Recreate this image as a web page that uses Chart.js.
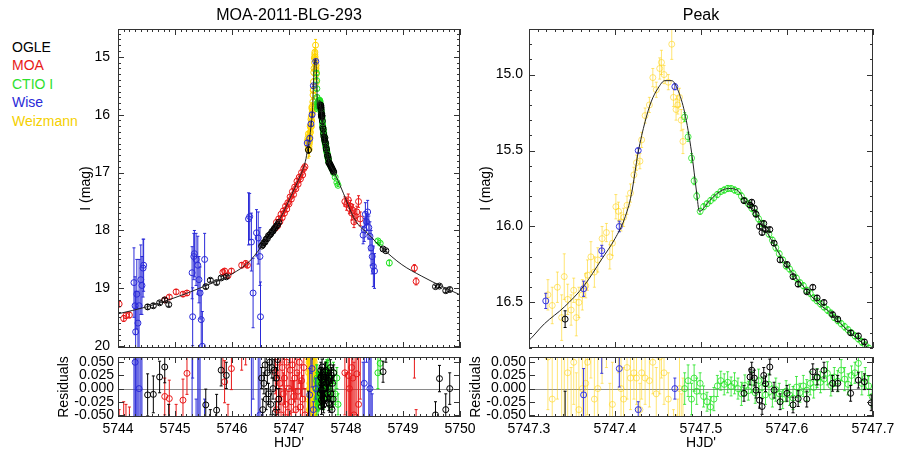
<!DOCTYPE html>
<html>
<head>
<meta charset="utf-8">
<script src="https://cdn.jsdelivr.net/npm/chart.js@4.4.0/dist/chart.umd.min.js"></script>
<style>
  body { margin: 0; background: #fff; width: 903px; height: 459px; position: relative; overflow: hidden;
         font-family: 'Liberation Sans', Arial, sans-serif; }
  canvas { position: absolute; }
  #legend { position: absolute; left: 12px; top: 38px; font-size: 14px; line-height: 18.4px; }
</style>
</head>
<body>
<div id="legend"></div>
<canvas id="leftMain" width="480" height="360" style="left:0;top:0"></canvas>
<canvas id="leftRes" width="480" height="109" style="left:0;top:350px"></canvas>
<canvas id="rightMain" width="438" height="360" style="left:465px;top:0"></canvas>
<canvas id="rightRes" width="438" height="109" style="left:465px;top:350px"></canvas>
<script>
// tick labels
const leftDayTicks = [5744, 5745, 5746, 5747, 5748, 5749, 5750];
const leftMagTicks = [15, 16, 17, 18, 19, 20];
const peakDayTicks = [5747.3, 5747.4, 5747.5, 5747.6, 5747.7];
const peakMagTicks = [15.0, 15.5, 16.0, 16.5];
const residualTicks = [0.05, 0.025, 0, -0.025, -0.05];

// model light curve
const modelT = [5744.0, 5744.5, 5745.0, 5745.5, 5746.0, 5746.3, 5746.5, 5746.7, 5746.9, 5747.0, 5747.1, 5747.2, 5747.25,
  5747.298, 5747.318, 5747.341, 5747.364, 5747.384, 5747.4, 5747.411, 5747.419, 5747.427, 5747.435, 5747.442, 5747.45,
  5747.458, 5747.466, 5747.473, 5747.481, 5747.489, 5747.495, 5747.498, 5747.51, 5747.522, 5747.532, 5747.542, 5747.551,
  5747.561, 5747.573, 5747.589, 5747.604, 5747.62, 5747.635, 5747.651, 5747.666, 5747.682, 5747.7, 5747.75, 5747.81,
  5747.93, 5748.16, 5748.4, 5748.63, 5748.98, 5749.33, 5749.69, 5750.0];
const modelMag = [19.44, 19.32, 19.16, 18.97, 18.75, 18.54, 18.30, 18.04, 17.69, 17.48, 17.27, 17.05, 16.93,
  16.76, 16.64, 16.53, 16.39, 16.22, 16.08, 15.95, 15.79, 15.51, 15.31, 15.18, 15.09,
  15.04, 15.04, 15.10, 15.25, 15.51, 15.78, 15.90, 15.83, 15.77, 15.75, 15.76, 15.83,
  15.89, 16.00, 16.16, 16.29, 16.40, 16.50, 16.57, 16.66, 16.74, 16.82, 16.92, 17.03,
  17.30, 17.82, 18.07, 18.30, 18.59, 18.79, 18.97, 19.11];

// OGLE
const ogleT = [5744.52, 5744.62, 5744.73, 5744.82, 5744.89, 5745.54, 5745.62, 5745.73, 5745.81, 5745.90,
  5746.52, 5746.54, 5746.56, 5746.58, 5746.60, 5746.62, 5746.64, 5746.66, 5746.68, 5746.70, 5746.72, 5746.74, 5746.76, 5746.78, 5746.80, 5746.82,
  5747.342,
  5747.550, 5747.557, 5747.559, 5747.562, 5747.564, 5747.568, 5747.571, 5747.573, 5747.575, 5747.580, 5747.585, 5747.592, 5747.600,
  5747.607, 5747.613, 5747.623, 5747.630, 5747.635, 5747.643, 5747.653, 5747.659, 5747.674, 5747.683, 5747.690, 5747.698,
  5747.705, 5747.715, 5747.725, 5747.735, 5747.745, 5747.755, 5747.765, 5747.775, 5747.785,
  5748.65, 5748.70, 5749.57, 5749.64, 5749.75, 5749.82];
const ogleMag = [19.32, 19.30, 19.25, 19.20, 19.28, 18.97, 18.86, 18.90, 18.82, 18.80,
  18.27, 18.25, 18.21, 18.20, 18.15, 18.14, 18.09, 18.08, 18.06, 18.02, 18.01, 17.97, 17.95, 17.92, 17.90, 17.86,
  16.61,
  15.83, 15.86, 15.84, 15.88, 15.92, 16.00, 16.04, 15.98, 16.02, 16.02, 16.11, 16.22, 16.25,
  16.33, 16.38, 16.43, 16.40, 16.47, 16.50, 16.58, 16.61, 16.70, 16.72, 16.76, 16.83,
  16.83, 16.85, 16.87, 16.89, 16.91, 16.93, 16.95, 16.97, 16.99,
  18.32, 18.35, 18.97, 18.96, 19.04, 19.02];
const ogleErr = [0.04, 0.035, 0.03, 0.03, 0.03, 0.03, 0.03, 0.03, 0.03, 0.025,
  0.02, 0.02, 0.02, 0.02, 0.02, 0.02, 0.02, 0.02, 0.02, 0.02, 0.02, 0.02, 0.02, 0.02, 0.02, 0.02,
  0.055,
  0.015, 0.015, 0.015, 0.015, 0.015, 0.015, 0.015, 0.015, 0.015, 0.015, 0.015, 0.015, 0.015,
  0.015, 0.015, 0.015, 0.015, 0.015, 0.015, 0.015, 0.015, 0.015, 0.015, 0.015, 0.015,
  0.015, 0.015, 0.015, 0.015, 0.015, 0.015, 0.015, 0.015, 0.015,
  0.02, 0.02, 0.025, 0.025, 0.03, 0.03];
const ogleRes = [-0.012, -0.011, 0.022, 0.041, -0.06, -0.031, -0.07, -0.041, 0.035, 0.025,
  0.02, -0.04, 0.01, 0.045, -0.02, 0.03, -0.01, 0.05, -0.03, 0.04, 0.0, 0.035, -0.045, 0.02, 0.055, -0.02,
  -0.06,
  -0.009, 0.022, 0.035, 0.020, -0.003, -0.022, -0.034, 0.025, 0.009, 0.041, -0.003, -0.025, -0.009,
  -0.031, -0.019, -0.020, 0.032, 0.022, 0.035, 0.010, 0.010, -0.009, 0.016, 0.013, -0.027,
  0.02, -0.03, 0.04, -0.01, 0.025, -0.04, 0.01, -0.02, 0.03,
  0.032, 0.07, -0.05, 0.019, -0.04, 0.0];

// MOA
const moaT = [5744.02, 5744.10, 5744.14, 5744.20, 5744.82, 5744.90, 5745.02, 5745.14, 5745.21, 5745.84, 5745.87, 5745.93, 5745.99, 5746.17, 5746.24, 5746.27,
  5746.76, 5746.78, 5746.80, 5746.82, 5746.84, 5746.86, 5746.88, 5746.90, 5746.92, 5746.94, 5746.96, 5746.98, 5747.00, 5747.02,
  5747.04, 5747.06, 5747.08, 5747.10, 5747.12, 5747.14, 5747.16, 5747.18, 5747.20, 5747.22, 5747.24, 5747.26, 5747.28,
  5747.98, 5748.01, 5748.04, 5748.06, 5748.08, 5748.10, 5748.12, 5748.14, 5748.16, 5748.19, 5748.22, 5748.25,
  5749.20, 5749.23];
const moaMag = [19.27, 19.52, 19.47, 19.46, 19.20, 19.15, 19.06, 19.10, 19.08, 18.72, 18.70, 18.78, 18.70, 18.60, 18.57, 18.60,
  17.96, 17.86, 17.92, 17.80, 17.85, 17.72, 17.78, 17.66, 17.70, 17.58, 17.63, 17.52, 17.54, 17.42,
  17.46, 17.33, 17.38, 17.25, 17.28, 17.15, 17.20, 17.08, 17.11, 17.00, 17.04, 16.93, 16.90,
  17.50, 17.55, 17.47, 17.62, 17.58, 17.70, 17.65, 17.85, 17.75, 17.68, 17.50, 17.80,
  18.65, 18.88];
const moaErr = [0.05, 0.05, 0.05, 0.05, 0.035, 0.035, 0.04, 0.04, 0.04, 0.04, 0.04, 0.04, 0.04, 0.045, 0.045, 0.045,
  0.04, 0.05, 0.03, 0.045, 0.04, 0.05, 0.035, 0.04, 0.05, 0.03, 0.045, 0.04, 0.05, 0.035,
  0.04, 0.05, 0.03, 0.045, 0.04, 0.05, 0.035, 0.04, 0.05, 0.03, 0.045, 0.04, 0.05,
  0.08, 0.10, 0.10, 0.09, 0.10, 0.12, 0.10, 0.10, 0.12, 0.10, 0.10, 0.12,
  0.06, 0.06];
const moaRes = [-0.09, -0.075, -0.08, -0.085, -0.015, -0.019, -0.07, -0.022, 0.029, 0.07, 0.013, -0.07, 0.038, 0.08, 0.09, -0.1,
  0.03, -0.04, 0.05, -0.02, 0.01, -0.05, 0.04, -0.01, 0.02, -0.03, 0.05, -0.045, 0.0, 0.035,
  -0.025, 0.045, -0.015, 0.02, -0.04, 0.03, -0.005, 0.05, -0.035, 0.015, -0.02, 0.04, -0.05,
  0.03, -0.07, 0.025, 0.0, -0.08, 0.04, 0.02, -0.05, 0.07, 0.028, -0.03, 0.1,
  0.08, -0.1];

// CTIO I
const ctioT = [5747.481, 5747.485, 5747.489, 5747.492, 5747.495, 5747.499,
  5747.503, 5747.507, 5747.511, 5747.515, 5747.519, 5747.523, 5747.527, 5747.531, 5747.535, 5747.539,
  5747.543, 5747.547, 5747.551, 5747.555, 5747.559, 5747.563, 5747.567, 5747.571, 5747.575, 5747.579,
  5747.583, 5747.587, 5747.591, 5747.595, 5747.599, 5747.603, 5747.607, 5747.611, 5747.615, 5747.619,
  5747.623, 5747.627, 5747.631, 5747.635, 5747.639, 5747.643, 5747.647, 5747.651, 5747.655, 5747.659,
  5747.663, 5747.667, 5747.671, 5747.675, 5747.679, 5747.683, 5747.687, 5747.691, 5747.695, 5747.699,
  5747.72, 5747.75, 5747.78, 5747.81, 5747.84, 5747.86, 5748.56, 5748.60, 5748.76];
const ctioMag = [15.28, 15.41, 15.55, 15.70, 15.80, 15.90,
  15.87, 15.85, 15.83, 15.81, 15.79, 15.77, 15.76, 15.75, 15.75, 15.76,
  15.77, 15.80, 15.83, 15.85, 15.88, 15.91, 15.95, 15.98, 16.02, 16.05,
  16.09, 16.14, 16.18, 16.22, 16.26, 16.28, 16.31, 16.34, 16.37, 16.39,
  16.42, 16.44, 16.47, 16.49, 16.51, 16.53, 16.55, 16.57, 16.60, 16.62,
  16.64, 16.66, 16.68, 16.70, 16.72, 16.74, 16.76, 16.78, 16.80, 16.82,
  16.87, 16.93, 17.00, 17.08, 17.17, 17.22, 18.18, 18.22, 18.56];
const ctioErr = [0.03, 0.03, 0.03, 0.025, 0.025, 0.02,
  0.02, 0.018, 0.02, 0.022, 0.02, 0.018, 0.02, 0.02, 0.018, 0.02,
  0.02, 0.022, 0.02, 0.018, 0.02, 0.02, 0.022, 0.02, 0.018, 0.02,
  0.02, 0.022, 0.02, 0.018, 0.02, 0.02, 0.022, 0.02, 0.018, 0.02,
  0.02, 0.022, 0.02, 0.018, 0.02, 0.02, 0.022, 0.02, 0.018, 0.02,
  0.02, 0.022, 0.02, 0.018, 0.02, 0.02, 0.022, 0.02, 0.018, 0.02,
  0.02, 0.02, 0.02, 0.02, 0.02, 0.02, 0.03, 0.02, 0.05];
const ctioRes = [0.000, 0.015, -0.020, 0.020, -0.005, 0.010,
  -0.015, -0.025, -0.035, -0.020, 0.005, 0.015, 0.008, 0.012, 0.004, 0.010,
  0.000, -0.010, 0.006, -0.004, 0.012, -0.008, 0.015, 0.002, -0.012, 0.008,
  -0.015, -0.002, -0.010, -0.020, -0.005, -0.012, -0.018, 0.003, -0.008, 0.005,
  -0.003, 0.010, 0.002, 0.020, 0.012, 0.018, 0.029, 0.006, 0.022, 0.014,
  0.035, 0.018, 0.008, 0.025, 0.030, 0.048, 0.010, 0.020, 0.005, -0.015,
  0.01, -0.02, 0.03, -0.01, 0.02, -0.03, 0.03, 0.048, 0.16];

// Wise
const wiseT = [5744.28, 5744.30, 5744.31, 5744.33, 5744.35, 5744.37, 5744.40, 5744.42, 5744.44, 5744.45,
  5745.30, 5745.31, 5745.33, 5745.34, 5745.37, 5745.40, 5745.42, 5745.44, 5745.46, 5745.48, 5745.52,
  5746.29, 5746.31, 5746.34, 5746.37, 5746.43, 5746.46, 5746.49, 5746.50,
  5747.3195, 5747.3635, 5747.3846, 5747.405, 5747.427, 5747.4696,
  5748.30, 5748.32, 5748.34, 5748.36, 5748.38, 5748.40, 5748.42, 5748.44, 5748.46, 5748.48, 5748.50];
const wiseMag = [18.90, 19.30, 19.75, 19.10, 19.60, 19.30, 18.85, 18.95, 18.65, 18.60,
  18.73, 19.49, 18.45, 18.40, 18.50, 18.60, 18.85, 19.08, 19.54, 20.00, 18.50,
  17.80, 17.76, 18.20, 19.08, 18.04, 18.13, 18.45, 19.49,
  16.49, 16.41, 16.16, 16.00, 15.50, 15.08,
  18.08, 17.99, 17.72, 17.85, 17.68, 17.95, 18.10, 18.30, 18.45, 18.62, 18.70];
const wiseErr = [0.60, 0.50, 0.70, 0.60, 0.55, 0.80, 0.60, 0.50, 0.50, 0.45,
  0.45, 0.50, 0.40, 0.40, 0.45, 0.50, 0.40, 0.45, 0.50, 0.60, 0.45,
  0.45, 0.40, 0.50, 0.60, 0.40, 0.45, 0.50, 0.60,
  0.05, 0.05, 0.036, 0.035, 0.015, 0.02,
  0.15, 0.20, 0.20, 0.15, 0.20, 0.20, 0.25, 0.30, 0.30, 0.35, 0.30];
const wiseRes = [-0.35, 0.05, 0.48, -0.20, 0.30, 0.00, -0.45, -0.35, -0.60, -0.65,
  -0.24, 0.52, -0.52, -0.57, -0.47, -0.37, -0.12, 0.11, 0.57, 1.03, -0.47,
  -0.70, -0.74, -0.30, 0.58, -0.46, -0.37, -0.05, 0.99,
  -0.15, -0.012, 0.065, 0.038, -0.040, 0.000,
  -0.10, 0.01, 0.31, 0.20, 0.39, 0.12, 0.00, -0.18, -0.31, -0.46, -0.52];

// Weizmann
const weizT = [5747.322, 5747.327, 5747.333, 5747.338, 5747.341, 5747.345, 5747.349, 5747.352, 5747.355, 5747.358,
  5747.362, 5747.366, 5747.368, 5747.372, 5747.376, 5747.380, 5747.385, 5747.390, 5747.394, 5747.397,
  5747.401, 5747.404, 5747.407, 5747.410, 5747.414, 5747.418, 5747.422, 5747.425, 5747.429, 5747.431,
  5747.435, 5747.440, 5747.444, 5747.448, 5747.452, 5747.454, 5747.457, 5747.462, 5747.466, 5747.468,
  5747.471, 5747.473, 5747.475, 5747.477, 5747.479];
const weizMag = [16.45, 16.52, 16.40, 16.60, 16.33, 16.48, 16.55, 16.42, 16.60, 16.50,
  16.45, 16.39, 16.32, 16.20, 16.30, 16.22, 16.08, 16.04, 16.20, 16.11,
  15.87, 15.90, 15.97, 15.94, 15.86, 15.78, 15.66, 15.58, 15.57, 15.43,
  15.27, 15.20, 15.02, 15.10, 14.96, 14.92, 15.00, 15.05, 14.80, 15.15,
  15.23, 15.20, 15.15, 15.30, 15.44];
const weizErr = [0.10, 0.12, 0.10, 0.15, 0.15, 0.10, 0.10, 0.08, 0.12, 0.10,
  0.10, 0.08, 0.10, 0.10, 0.10, 0.08, 0.08, 0.06, 0.08, 0.08,
  0.08, 0.06, 0.06, 0.06, 0.06, 0.06, 0.05, 0.05, 0.05, 0.05,
  0.05, 0.05, 0.06, 0.05, 0.07, 0.08, 0.06, 0.05, 0.10, 0.06,
  0.07, 0.06, 0.06, 0.07, 0.08];
const weizRes = [0.06, -0.02, 0.08, -0.07, 0.10, 0.03, -0.06, 0.05, -0.09, -0.04,
  0.00, 0.01, 0.05, 0.12, -0.02, 0.00, 0.09, 0.10, -0.07, -0.03,
  0.20, 0.09, 0.00, -0.02, 0.04, 0.02, 0.03, 0.02, -0.04, 0.03,
  0.02, 0.015, 0.05, -0.01, 0.06, 0.10, 0.03, -0.02, 0.22, -0.10,
  -0.12, -0.08, 0.00, -0.08, -0.06];

const FONT = "'Liberation Sans', Arial, Helvetica, sans-serif";
Chart.defaults.font.family = FONT;
Chart.defaults.color = '#000';

// legend order follows the reference; draw order puts OGLE on top.
// "soft" colours are used in the zoomed Peak panels, where the reference looks paler.
const series = [
  { label: 'OGLE', text: '#000000', color: '#000000', soft: '#000000', t: ogleT, mag: ogleMag, err: ogleErr, res: ogleRes },
  { label: 'Wise', text: '#2a2ad8', color: '#2a2ad8', soft: '#3535dd', t: wiseT, mag: wiseMag, err: wiseErr, res: wiseRes },
  { label: 'MOA', text: '#e81818', color: '#e81818', soft: '#e81818', t: moaT, mag: moaMag, err: moaErr, res: moaRes },
  { label: 'CTIO I', text: '#2ee02e', color: '#1ee01e', soft: 'rgba(20,225,20,0.75)', t: ctioT, mag: ctioMag, err: ctioErr, res: ctioRes },
  { label: 'Weizmann', text: '#f5d000', color: '#ffd400', soft: 'rgba(255,208,0,0.55)', t: weizT, mag: weizMag, err: weizErr, res: weizRes }
];

const legend = document.getElementById('legend');
['OGLE', 'MOA', 'CTIO I', 'Wise', 'Weizmann'].forEach(name => {
  const s = series.find(item => item.label === name);
  const row = document.createElement('div');
  row.textContent = name;
  row.style.color = s.text;
  legend.appendChild(row);
});

function points(t, v) {
  return t.map((x, i) => ({ x, y: v[i] }));
}

const errorBars = {
  id: 'errorBars',
  beforeDatasetDraw(chart, args) {
    const ds = chart.data.datasets[args.index];
    if (!ds.errs) return;
    const { ctx, chartArea: a, scales: { x, y } } = chart;
    ctx.save();
    ctx.beginPath();
    ctx.rect(a.left, a.top, a.right - a.left, a.bottom - a.top);
    ctx.clip();
    ctx.strokeStyle = ds.borderColor;
    ctx.lineWidth = 1;
    ctx.beginPath();
    ds.data.forEach((p, i) => {
      const px = x.getPixelForValue(p.x);
      if (px < a.left - 3 || px > a.right + 3) return;
      const y1 = y.getPixelForValue(p.y - ds.errs[i]);
      const y2 = y.getPixelForValue(p.y + ds.errs[i]);
      ctx.moveTo(px, y1); ctx.lineTo(px, y2);
      ctx.moveTo(px - 1.5, y1); ctx.lineTo(px + 1.5, y1);
      ctx.moveTo(px - 1.5, y2); ctx.lineTo(px + 1.5, y2);
    });
    ctx.stroke();
    ctx.restore();
  }
};

const idlFrame = {
  id: 'idlFrame',
  beforeDatasetsDraw(chart, args, opts) {
    if (!opts.zeroLine) return;
    const { ctx, chartArea: a, scales: { y } } = chart;
    const p = Math.round(y.getPixelForValue(0)) + 0.5;
    ctx.save();
    ctx.strokeStyle = '#8a8a8a';
    ctx.lineWidth = 1;
    ctx.beginPath();
    ctx.moveTo(a.left, p); ctx.lineTo(a.right, p);
    ctx.stroke();
    ctx.restore();
  },
  afterDraw(chart, args, opts) {
    if (!opts.xMajor) return;
    const { ctx, chartArea: a, scales: { x, y } } = chart;
    ctx.save();
    ctx.strokeStyle = '#333';
    ctx.lineWidth = 1;
    ctx.strokeRect(Math.round(a.left) + 0.5, Math.round(a.top) + 0.5,
      Math.round(a.right - a.left) - 1, Math.round(a.bottom - a.top) - 1);
    ctx.beginPath();
    const marks = (scale, step, len, horizontal) => {
      if (!step) return;
      const lo = Math.min(scale.min, scale.max);
      const hi = Math.max(scale.min, scale.max);
      for (let k = Math.ceil(lo / step - 1e-6); k * step <= hi + 1e-9; k++) {
        const p = Math.round(scale.getPixelForValue(k * step)) + 0.5;
        if (horizontal) {
          ctx.moveTo(p, a.bottom); ctx.lineTo(p, a.bottom - len);
          ctx.moveTo(p, a.top); ctx.lineTo(p, a.top + len);
        } else {
          ctx.moveTo(a.left, p); ctx.lineTo(a.left + len, p);
          ctx.moveTo(a.right, p); ctx.lineTo(a.right - len, p);
        }
      }
    };
    marks(x, opts.xMajor, 6, true);
    marks(x, opts.xMinor, 3, true);
    marks(y, opts.yMajor, 6, false);
    marks(y, opts.yMinor, 3, false);
    ctx.stroke();
    ctx.restore();
  }
};

Chart.register(errorBars, idlFrame);

function panel(canvasId, opt) {
  const residual = opt.kind === 'res';
  const datasets = series.map(s => ({
    label: s.label,
    data: points(s.t, residual ? s.res : s.mag),
    errs: s.err,
    borderColor: opt.soft ? s.soft : s.color,
    backgroundColor: 'rgba(0,0,0,0)',
    pointRadius: 3,
    pointBorderWidth: 1,
    pointHoverRadius: 3
  }));
  if (!residual) {
    datasets.unshift({
      label: 'model',
      data: points(modelT, modelMag),
      showLine: true,
      borderColor: '#222',
      borderWidth: 1,
      pointRadius: 0,
      cubicInterpolationMode: 'monotone'
    });
  }

  return new Chart(document.getElementById(canvasId), {
    type: 'scatter',
    data: { datasets },
    options: {
      responsive: false,
      animation: false,
      devicePixelRatio: 1,
      events: [],
      layout: { padding: { left: 0, right: opt.padRight, top: residual ? 7 : 0, bottom: residual ? 0 : 12 } },
      plugins: {
        legend: { display: false },
        tooltip: { enabled: false },
        title: {
          display: !!opt.title,
          text: opt.title,
          fullSize: false,
          color: '#000',
          font: { size: 16, weight: 'normal' },
          padding: { top: 6, bottom: 3.8 }
        },
        idlFrame: opt.frame
      },
      scales: {
        x: {
          type: 'linear',
          min: opt.xMin,
          max: opt.xMax,
          display: residual,
          afterFit: s => { s.height = residual ? 42 : 0; s.paddingLeft = 0; s.paddingRight = 0; },
          afterBuildTicks: s => { s.ticks = opt.xTicks.map(v => ({ value: v })); },
          grid: { display: false, drawTicks: false },
          border: { display: false },
          ticks: { padding: 4, autoSkip: false, maxRotation: 0, color: '#000', font: { size: 14 },
                   callback: v => v.toFixed(opt.xDigits) },
          title: { display: true, text: "HJD'", color: '#000', font: { size: 14 }, padding: { top: 0, bottom: 7 } }
        },
        y: {
          type: 'linear',
          min: opt.yMin,
          max: opt.yMax,
          reverse: !residual,
          afterFit: s => { s.width = opt.axisWidth; s.paddingTop = 0; s.paddingBottom = 0; },
          afterBuildTicks: s => { s.ticks = opt.yTicks.map(v => ({ value: v })); },
          grid: { display: false, drawTicks: false },
          border: { display: false },
          ticks: { padding: opt.yPad, autoSkip: false, color: '#000', font: { size: 14 },
                   callback: v => v.toFixed(opt.yDigits) },
          title: { display: true, text: opt.yTitle, color: '#000', font: { size: 14 },
                   padding: { top: opt.yTitlePad, bottom: 0 } }
        }
      }
    }
  });
}

panel('leftMain', {
  kind: 'mag', title: 'MOA-2011-BLG-293', padRight: 20, axisWidth: 118,
  xMin: 5744, xMax: 5750, xTicks: leftDayTicks, xDigits: 0,
  yMin: 14.52, yMax: 20.03, yTicks: leftMagTicks, yDigits: 0, yPad: 8,
  yTitle: 'I (mag)', yTitlePad: 77.6,
  frame: { xMajor: 1, xMinor: 0.1, yMajor: 1, yMinor: 0.1 }
});

panel('leftRes', {
  kind: 'res', padRight: 20, axisWidth: 118,
  xMin: 5744, xMax: 5750, xTicks: leftDayTicks, xDigits: 0,
  yMin: -0.054, yMax: 0.06, yTicks: residualTicks, yDigits: 3, yPad: 4,
  yTitle: 'Residuals', yTitlePad: 55.6,
  frame: { xMajor: 1, xMinor: 0.1, yMajor: 0.025, zeroLine: true }
});

panel('rightMain', {
  kind: 'mag', title: 'Peak', padRight: 30, axisWidth: 64, soft: true,
  xMin: 5747.3, xMax: 5747.7, xTicks: peakDayTicks, xDigits: 1,
  yMin: 14.7, yMax: 16.8, yTicks: peakMagTicks, yDigits: 1, yPad: 6,
  yTitle: 'I (mag)', yTitlePad: 12.6,
  frame: { xMajor: 0.1, xMinor: 0.01, yMajor: 0.5, yMinor: 0.1 }
});

panel('rightRes', {
  kind: 'res', padRight: 30, axisWidth: 64, soft: true,
  xMin: 5747.3, xMax: 5747.7, xTicks: peakDayTicks, xDigits: 1,
  yMin: -0.054, yMax: 0.06, yTicks: residualTicks, yDigits: 3, yPad: 3,
  yTitle: 'Residuals', yTitlePad: 2.6,
  frame: { xMajor: 0.1, xMinor: 0.01, yMajor: 0.025, zeroLine: true }
});
</script>
</body>
</html>
